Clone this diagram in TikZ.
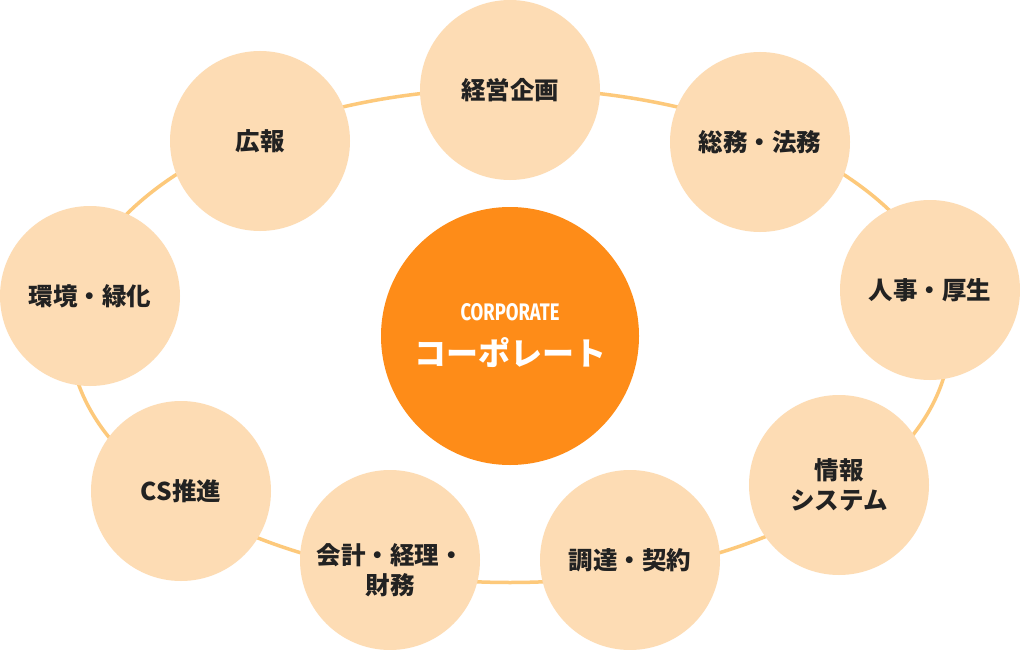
\documentclass[tikz,border=0pt]{standalone}
\usepackage{fontspec}
\usepackage{graphicx}
\newfontfamily\jp{Noto Sans CJK JP}
\newfontfamily\fira{Fira Sans}
\definecolor{ringcol}{HTML}{FDC97B}
\definecolor{subfill}{HTML}{FDDCB4}
\definecolor{mainfill}{HTML}{FE8C18}
\definecolor{txt}{HTML}{222222}
\tikzset{
  ring/.style={draw=ringcol, line width=3.5pt},
  sub/.style={circle, fill=subfill, minimum size=180pt, inner sep=0pt, align=center,
    text=txt, font=\jp\bfseries\fontsize{24.5}{30}\selectfont},
  subtext/.style={inner sep=0pt, align=center, text=txt, font=\jp\bfseries\fontsize{24.5}{30}\selectfont},
  mainc/.style={circle, fill=mainfill, minimum size=258pt, inner sep=0pt},
  maintext/.style={inner sep=0pt, text=white}
}
\begin{document}
\begin{tikzpicture}[x=1pt,y=-1pt]
\useasboundingbox (0,0) rectangle (1020,650);
\fill[white] (0,0) rectangle (1020,650);
\draw[ring] (510,335.5) ellipse [x radius=440pt, y radius=247pt];
\node[sub] (keiei) at (510,90) {経営企画};
\node[sub] (soumu) at (760,142) {総務・法務};
\node[sub] (jinji) at (930,290) {人事・厚生};
\node[sub] (jouhou) at (839,485) {情報\\システム};
\node[sub] (choutatsu) at (630,560) {調達・契約};
\node[sub] (kaikei) at (390,560) {};
\node[subtext] (kaikeitext) at ([yshift=-10pt]kaikei.center) {会計・経理・\\財務};
\node[sub] (cs) at (181,491) {CS推進};
\node[sub] (kankyou) at (90,296) {環境・緑化};
\node[sub] (kouhou) at (260,141) {広報};
\node[mainc] (corp) at (510,336) {};
\node[maintext, anchor=base] (corpen) at (510,320) {\resizebox{99pt}{17pt}{\fira\bfseries CORPORATE}};
\node[maintext, font=\jp\bfseries\fontsize{32}{36}\selectfont] (corpjp) at (510,353) {コーポレート};
\end{tikzpicture}
\end{document}
